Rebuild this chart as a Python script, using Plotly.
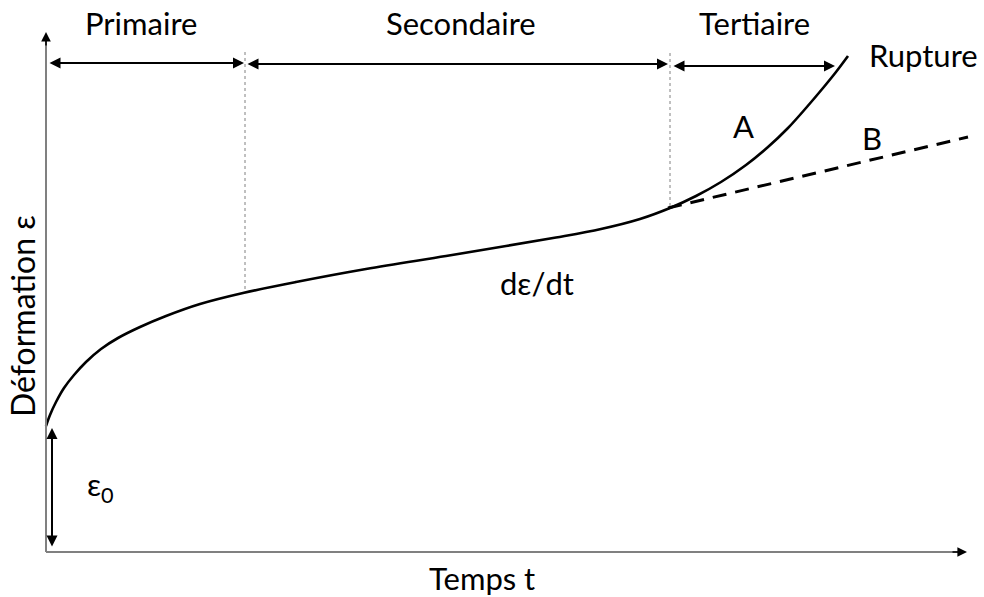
import plotly.graph_objects as go

# Creep curve: strain vs time (arbitrary units, origin at the axes corner)
t_curve = [0, 4, 10, 18, 28, 40, 55, 72, 94, 120, 154, 197, 250, 320, 400, 460, 510, 555, 594,
           624, 650, 675, 700, 722, 742, 760, 777, 790, 802]
eps_curve = [126, 137, 150, 164, 177, 190, 203, 214, 225, 236, 248, 259, 270, 283, 296, 306, 314.5, 323, 333,
             344, 356, 370, 387, 405, 424, 444, 464, 480, 496]

# Extrapolated secondary trend (case B)
t_b = [622, 922]
eps_b = [344, 415]

# Stage boundaries and labels
t_bounds = [0, 199, 624, 789]
stage_names = ["Primaire", "Secondaire", "Tertiaire"]
eps0 = 124
eps_top = 489

FONT = "Lato"
FS = 31
BLACK = "#000000"
GREY = "#808080"

fig = go.Figure()

fig.add_trace(go.Scatter(x=t_curve, y=eps_curve, mode="lines",
                         line=dict(color=BLACK, width=2.6, shape="spline", smoothing=1.0),
                         hoverinfo="skip", showlegend=False))
fig.add_trace(go.Scatter(x=t_b, y=eps_b, mode="lines",
                         line=dict(color=BLACK, width=3, dash="14px,9px"),
                         hoverinfo="skip", showlegend=False))

shapes = []
# axes lines
shapes.append(dict(type="line", xref="x", yref="y", x0=0, y0=0, x1=0, y1=515,
                   line=dict(color=GREY, width=2)))
shapes.append(dict(type="line", xref="x", yref="y", x0=0, y0=0, x1=915, y1=0,
                   line=dict(color=GREY, width=2)))
# dotted stage boundaries
shapes.append(dict(type="line", xref="x", yref="y", x0=t_bounds[1], y0=500, x1=t_bounds[1], y1=260,
                   line=dict(color=GREY, width=1, dash="dot")))
shapes.append(dict(type="line", xref="x", yref="y", x0=t_bounds[2], y0=499, x1=t_bounds[2], y1=344,
                   line=dict(color=GREY, width=1, dash="dot")))

annotations = []
# axis arrowheads
annotations.append(dict(x=0, y=520, ax=0, ay=505, xref="x", yref="y", axref="x", ayref="y",
                        text="", showarrow=True, arrowhead=2, arrowsize=1.2, arrowwidth=1.6,
                        arrowcolor=BLACK))
annotations.append(dict(x=921, y=0, ax=905, ay=0, xref="x", yref="y", axref="x", ayref="y",
                        text="", showarrow=True, arrowhead=2, arrowsize=1.2, arrowwidth=1.6,
                        arrowcolor=BLACK))

# stage span arrows
spans = [(t_bounds[0] + 2, t_bounds[1] - 1, eps_top),
         (t_bounds[1] + 1, t_bounds[2] - 2, eps_top - 1),
         (t_bounds[2] + 2, t_bounds[3], eps_top - 3)]
for (a, b, yy) in spans:
    annotations.append(dict(x=b, y=yy, ax=a, ay=yy, xref="x", yref="y", axref="x", ayref="y",
                            text="", showarrow=True, arrowhead=2, startarrowhead=2,
                            arrowside="end+start", arrowsize=1.1, startarrowsize=1.1,
                            arrowwidth=2, arrowcolor=BLACK))

# initial strain arrow
annotations.append(dict(x=6, y=eps0, ax=6, ay=4, xref="x", yref="y", axref="x", ayref="y",
                        text="", showarrow=True, arrowhead=2, startarrowhead=2,
                        arrowside="end+start", arrowsize=1.1, startarrowsize=1.1,
                        arrowwidth=2, arrowcolor=BLACK))


def label(x, y, txt, size=FS, angle=0):
    annotations.append(dict(x=x, y=y, xref="x", yref="y", text=txt, showarrow=False,
                            textangle=angle,
                            font=dict(family=FONT, size=size, color=BLACK)))


label_pos = [(95, 529), (415, 529), (708, 529)]
for name, (xx, yy) in zip(stage_names, label_pos):
    label(xx, yy, name)

label(877, 497, "Rupture")
label(697, 426, "A")
label(826, 414, "B")
label(491, 269, "dε/dt")
label(54, 66, "ε<sub>0</sub>")
label(436, -26, "Temps t")
label(-24, 236, "Déformation ε", size=32, angle=-90)

fig.update_layout(
    width=984, height=597,
    margin=dict(l=0, r=0, t=0, b=0),
    paper_bgcolor="white", plot_bgcolor="white",
    xaxis=dict(range=[-46, 938], visible=False, fixedrange=True),
    yaxis=dict(range=[-45, 552], visible=False, fixedrange=True),
    shapes=shapes, annotations=annotations,
    showlegend=False,
)

fig.write_html("out.html")
